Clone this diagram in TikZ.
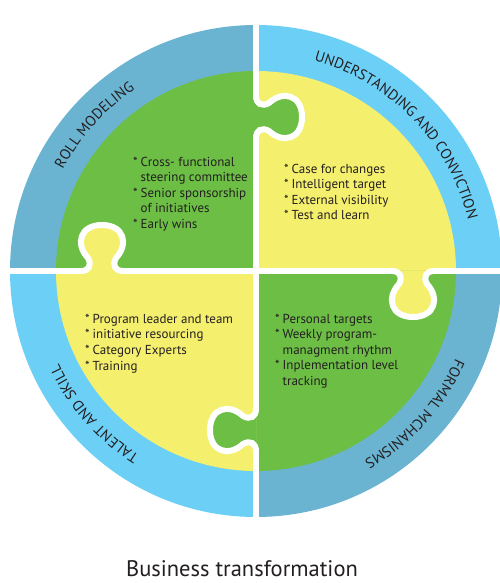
\documentclass[tikz,border=0pt]{standalone}
\usepackage{fontspec}
\setmainfont{PT Sans}
\usetikzlibrary{decorations.text}
\definecolor{dblue}{RGB}{106,180,210}
\definecolor{lblue}{RGB}{108,207,246}
\definecolor{pgreen}{RGB}{108,190,69}
\definecolor{pyellow}{RGB}{245,239,110}
\definecolor{txt}{RGB}{35,31,32}
\newcommand{\itm}{\makebox[7.5pt][l]{*}}
\newcommand{\ind}{\hspace*{7.5pt}}
\newcommand{\ringfont}{\fontsize{14.8}{14.8}\selectfont\color{txt}}
\begin{document}
\begin{tikzpicture}[x=1pt,y=1pt,
  cut/.style={draw=white,line width=6pt,line cap=round},
  items/.style={anchor=base west,align=left,inner sep=0pt,text=txt,font={\fontsize{13}{15.5}\selectfont}},
  ringlabel/.style={decorate,decoration={text along path,text align=center,text={|\ringfont|#1}}}]
\useasboundingbox (-256,-312) rectangle (244,271);
\fill[white] (-256,-312) rectangle (244,271);
% outer ring
\fill[dblue] (0,0) -- (180:246pt) arc[start angle=180,end angle=90,radius=246pt] -- cycle;
\fill[lblue] (0,0) -- (90:246pt) arc[start angle=90,end angle=0,radius=246pt] -- cycle;
\fill[dblue] (0,0) -- (0:246pt) arc[start angle=0,end angle=-90,radius=246pt] -- cycle;
\fill[lblue] (0,0) -- (-90:246pt) arc[start angle=-90,end angle=-180,radius=246pt] -- cycle;
% inner puzzle
\fill[pgreen] (0,0) -- (180:200pt) arc[start angle=180,end angle=90,radius=200pt] -- cycle;
\fill[pyellow] (0,0) -- (90:200pt) arc[start angle=90,end angle=0,radius=200pt] -- cycle;
\fill[pgreen] (0,0) -- (0:200pt) arc[start angle=0,end angle=-90,radius=200pt] -- cycle;
\fill[pyellow] (0,0) -- (-90:200pt) arc[start angle=-90,end angle=-180,radius=200pt] -- cycle;
% knobs
\foreach \sx/\sy/\rot/\col in {0/154/-90/pgreen, -154/0/0/pyellow, 157/0/180/pyellow, 0/-159/90/pgreen}{
  \begin{scope}[shift={(\sx,\sy)},rotate=\rot]
    \fill[\col] (-21,0) .. controls (-13,0) and (-10,6) .. (-14,13)
      .. controls (-27,27) and (-22,46) .. (0,46)
      .. controls (22,46) and (27,27) .. (14,13)
      .. controls (10,6) and (13,0) .. (21,0) -- cycle;
    \draw[cut] (-21,0) .. controls (-13,0) and (-10,6) .. (-14,13)
      .. controls (-27,27) and (-22,46) .. (0,46)
      .. controls (22,46) and (27,27) .. (14,13)
      .. controls (10,6) and (13,0) .. (21,0);
  \end{scope}
}
% straight cut lines
\draw[cut] (0,252) -- (0,175);
\draw[cut] (0,133) -- (0,-138);
\draw[cut] (0,-180) -- (0,-252);
\draw[cut] (-252,0) -- (-175,0);
\draw[cut] (-133,0) -- (136,0);
\draw[cut] (178,0) -- (252,0);
% ring labels
\path[ringlabel={ROLL MODELING}] (178:218pt) arc[start angle=178,end angle=98,radius=218pt];
\path[ringlabel={UNDERSTANDING AND CONVICTION}] (90:218pt) arc[start angle=90,end angle=-2,radius=218pt];
\path[ringlabel={FORMAL MCHANISMS}] (0:218pt) arc[start angle=0,end angle=-84,radius=218pt];
\path[ringlabel={TALENT AND SKILL}] (262:218pt) arc[start angle=262,end angle=181,radius=218pt];
% items (anchored at baseline of last line)
\node[items] (tl) at (-123,42.7) {\itm Cross- functional\\\ind steering committee\\\itm Senior sponsorship\\\ind of initiatives\\\itm Early wins};
\node[items] (tr) at (28,51) {\itm Case for changes\\\itm Intelligent target\\\itm External visibility\\\itm Test and learn};
\node[items] (bl) at (-171,-99) {\itm Program leader and team\\\itm initiative resourcing\\\itm Category Experts\\\itm Training};
\node[items] (br) at (19,-114) {\itm Personal targets\\\itm Weekly program-\\\ind managment rhythm\\\itm Inplementation level\\\ind tracking};
% title
\node[anchor=base,inner sep=0pt,text=txt,font={\fontsize{22.5}{26}\selectfont}] (title) at (-14,-305.7) {Business transformation};
\end{tikzpicture}
\end{document}
